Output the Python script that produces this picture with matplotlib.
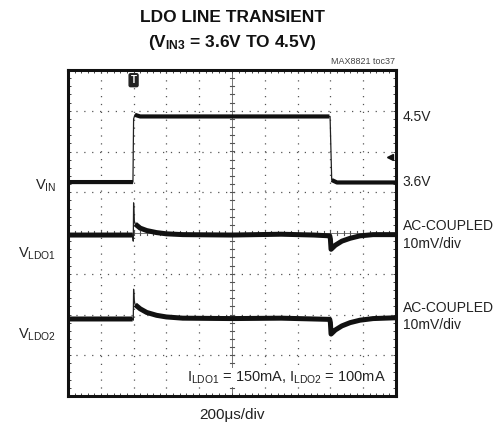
import matplotlib
matplotlib.use("Agg")
import matplotlib.pyplot as plt
import numpy as np

# ---------- data (scope divisions: x 0..10, y 0..8 from bottom) ----------
vin_t = [0.0, 1.98, 2.0, 2.04, 2.2, 7.97, 7.99, 8.04, 8.2, 10.0]
vin_v = [5.25, 5.25, 6.80, 6.90, 6.86, 6.86, 6.86, 5.30, 5.24, 5.24]
vin_band = [True, True, False, True, True, True, False, True, True, True]

ldo1_t = [0.0, 1.97, 1.99, 2.0, 2.02, 2.05, 2.2, 2.4, 2.7, 3.0, 3.5, 5.0,
          6.5, 7.5, 7.98, 8.0, 8.02, 8.15, 8.35, 8.6, 8.9, 9.3, 10.0]
ldo1_v = [3.95, 3.95, 3.80, 4.74, 4.30, 4.22, 4.12, 4.06, 4.01, 3.98, 3.96, 3.95,
          3.97, 3.95, 3.93, 3.85, 3.60, 3.70, 3.80, 3.87, 3.93, 3.96, 3.96]

ldo2_t = [0.0, 1.97, 1.99, 2.0, 2.02, 2.05, 2.2, 2.4, 2.7, 3.0, 3.5, 5.0,
          6.5, 7.5, 7.98, 8.0, 8.02, 8.15, 8.35, 8.6, 8.9, 9.3, 10.0]
ldo2_v = [1.89, 1.89, 1.86, 2.62, 2.32, 2.24, 2.14, 2.05, 1.98, 1.94, 1.91, 1.90,
          1.91, 1.89, 1.88, 1.80, 1.52, 1.62, 1.72, 1.80, 1.86, 1.90, 1.92]
# spike points drawn thin only
ldo_band = [True, True, False, False, False, True, True, True, True, True, True, True,
            True, True, True, True, True, True, True, True, True, True, True]

right_labels = [(6.85, "4.5V"), (5.25, "3.6V"),
                (3.95, "AC-COUPLED\n10mV/div"), (1.95, "AC-COUPLED\n10mV/div")]
left_labels = [(5.15, r"V$_{\mathrm{IN}}$"), (3.5, r"V$_{\mathrm{LDO1}}$"),
               (1.5, r"V$_{\mathrm{LDO2}}$")]

# ---------- style ----------
plt.rcParams["font.family"] = ["Liberation Sans", "DejaVu Sans"]
plt.rcParams["mathtext.fontset"] = "custom"
plt.rcParams["mathtext.rm"] = "Liberation Sans"
plt.rcParams["mathtext.it"] = "Liberation Sans"
plt.rcParams["mathtext.bf"] = "Liberation Sans:bold"

W, H = 501, 432
fig = plt.figure(figsize=(W / 100, H / 100), dpi=100)
ax = fig.add_axes([68 / W, 1 - 396 / H, 328 / W, 326 / H])
ax.set_xlim(0, 10)
ax.set_ylim(0, 8)

# dotted graticule
for gx in range(1, 10):
    if gx != 5:
        ax.axvline(gx, color="#555555", lw=0.9, ls=(0, (1, 5.3)), zorder=1)
for gy in range(1, 8):
    if gy != 4:
        ax.axhline(gy, color="#555555", lw=0.9, ls=(0, (1, 5.3)), zorder=1)

# center cross with small ticks
ax.axvline(5, color="#777777", lw=0.7, zorder=1)
ax.axhline(4, color="#777777", lw=0.7, zorder=1)
for k in np.arange(0.2, 8, 0.2):
    ax.plot([4.94, 5.06], [k, k], color="#555555", lw=0.8, zorder=1)
for k in np.arange(0.2, 10, 0.2):
    ax.plot([k, k], [3.95, 4.05], color="#555555", lw=0.8, zorder=1)


def trace(t, v, band, lw):
    ax.plot(t, v, color="#222222", lw=0.9, zorder=3)
    # thick band, broken where the thin edges/spikes are
    tt, vv = [], []
    for i in range(len(t)):
        if band[i]:
            tt.append(t[i])
            vv.append(v[i])
        elif tt and not np.isnan(tt[-1]):
            tt.append(np.nan)
            vv.append(np.nan)
    ax.plot(tt, vv, color="#111111", lw=lw, solid_capstyle="butt", zorder=3)


trace(vin_t, vin_v, vin_band, 3.0)
trace(ldo1_t, ldo1_v, ldo_band, 3.6)
trace(ldo2_t, ldo2_v, ldo_band, 3.6)

# border
for s in ax.spines.values():
    s.set_linewidth(2.2)
    s.set_color("#111111")
ax.set_xticks(np.arange(0, 10.01, 0.2))
ax.set_yticks(np.arange(0, 8.01, 0.2))
ax.tick_params(direction="in", length=2.5, width=0.7, color="#444444",
               top=True, right=True, labelbottom=False, labelleft=False)

# trigger marker and level arrow
ax.text(2.0, 7.75, "T", ha="center", va="center", fontsize=7, color="white",
        fontweight="bold", bbox=dict(boxstyle="round,pad=0.15", fc="#222222", ec="#222222"),
        zorder=5)
ax.plot([9.82], [5.87], marker="<", color="#111111", ms=5, zorder=5, clip_on=False)

# labels
for y, s in right_labels:
    ax.text(10.2, y, s, ha="left", va="center", fontsize=10, color="#222222",
            linespacing=1.3, clip_on=False)
for y, s in left_labels:
    ax.text(-0.35, y, s, ha="right", va="center", fontsize=10.5, color="#222222",
            clip_on=False)

ax.text(9.7, 0.45, r"I$_{\mathrm{LDO1}}$ = 150mA, I$_{\mathrm{LDO2}}$ = 100mA",
        ha="right", va="center", fontsize=10.5, color="#222222", zorder=4,
        bbox=dict(boxstyle="square,pad=0.1", fc="white", ec="none"))

fig.text(232 / W, 1 - 18 / H, "LDO LINE TRANSIENT", ha="center", va="center",
         fontsize=12.5, fontweight="bold", color="#111111")
fig.text(232 / W, 1 - 43 / H, r"(V$_{\mathbf{IN3}}$ = 3.6V TO 4.5V)", ha="center",
         va="center", fontsize=12.5, fontweight="bold", color="#111111")
fig.text(395 / W, 1 - 62 / H, "MAX8821 toc37", ha="right", va="center",
         fontsize=6.5, color="#444444")
fig.text(232 / W, 1 - 415 / H, "200\u03bcs/div", ha="center", va="center",
         fontsize=11, color="#222222")

fig.savefig("out.png", dpi=100)
